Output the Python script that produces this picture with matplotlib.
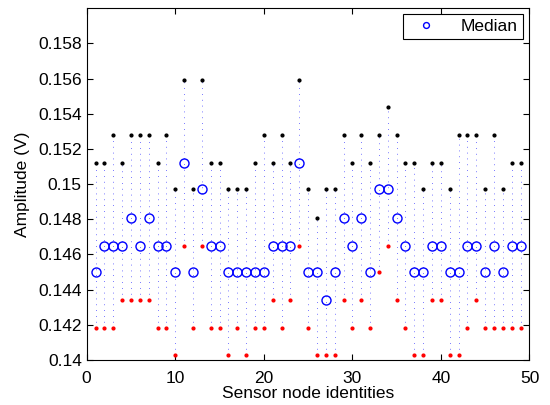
import matplotlib
matplotlib.use('Agg')
import matplotlib.pyplot as plt
from matplotlib.ticker import FormatStrFormatter

# sensor nodes 1..49
nodes = list(range(1, 50))

# maximum amplitude per node (black dots)
max_vals = [0.1512, 0.1512, 0.1528, 0.1512, 0.1528, 0.1528, 0.1528, 0.1512, 0.1528, 0.1497,
            0.1559, 0.1497, 0.1559, 0.1512, 0.1512, 0.1497, 0.1497, 0.1497, 0.1512, 0.1528,
            0.1512, 0.1528, 0.1512, 0.1559, 0.1497, 0.1481, 0.1497, 0.1497, 0.1528, 0.1512,
            0.1528, 0.1512, 0.1528, 0.1544, 0.1528, 0.1512, 0.1512, 0.1497, 0.1512, 0.1512,
            0.1497, 0.1528, 0.1528, 0.1528, 0.1497, 0.1528, 0.1497, 0.1512, 0.1512]

# median amplitude per node (blue circles)
median_vals = [0.1450, 0.1465, 0.1465, 0.1465, 0.1481, 0.1465, 0.1481, 0.1465, 0.1465, 0.1450,
               0.1512, 0.1450, 0.1497, 0.1465, 0.1465, 0.1450, 0.1450, 0.1450, 0.1450, 0.1450,
               0.1465, 0.1465, 0.1465, 0.1512, 0.1450, 0.1450, 0.1434, 0.1450, 0.1481, 0.1465,
               0.1481, 0.1450, 0.1497, 0.1497, 0.1481, 0.1465, 0.1450, 0.1450, 0.1465, 0.1465,
               0.1450, 0.1450, 0.1465, 0.1465, 0.1450, 0.1465, 0.1450, 0.1465, 0.1465]

# minimum amplitude per node (red dots)
min_vals = [0.1418, 0.1418, 0.1418, 0.1434, 0.1434, 0.1434, 0.1434, 0.1418, 0.1418, 0.1403,
            0.1465, 0.1418, 0.1465, 0.1418, 0.1418, 0.1403, 0.1418, 0.1403, 0.1418, 0.1418,
            0.1434, 0.1418, 0.1434, 0.1465, 0.1418, 0.1403, 0.1403, 0.1403, 0.1434, 0.1418,
            0.1434, 0.1418, 0.1450, 0.1465, 0.1434, 0.1418, 0.1403, 0.1403, 0.1434, 0.1434,
            0.1403, 0.1403, 0.1418, 0.1434, 0.1418, 0.1418, 0.1418, 0.1418, 0.1418]

plt.rcParams['font.family'] = ['Liberation Sans', 'DejaVu Sans']
plt.rcParams['font.size'] = 12.5

fig = plt.figure(figsize=(5.5, 4.05), dpi=100)
ax = fig.add_axes([0.1576, 0.1111, 0.8051, 0.8684])

# dotted range lines
for x, lo, hi in zip(nodes, min_vals, max_vals):
    ax.plot([x, x], [lo, hi], color='#0000ff', lw=0.6, alpha=0.7,
            linestyle=(0, (1, 6)), zorder=1)

ax.plot(nodes, max_vals, 'o', color='black', markersize=2.0, zorder=3)
ax.plot(nodes, min_vals, 'o', color='red', markersize=2.0, zorder=3)
ax.plot(nodes, median_vals, 'o', color='blue', markerfacecolor='none',
        markersize=6.5, markeredgewidth=1.0, label='Median', zorder=4)

ax.set_xlim(0, 50)
ax.set_ylim(0.14, 0.16)
ax.set_xticks([0, 10, 20, 30, 40, 50])
ax.set_yticks([0.14, 0.142, 0.144, 0.146, 0.148, 0.15, 0.152, 0.154, 0.156, 0.158])
ax.yaxis.set_major_formatter(FormatStrFormatter('%g'))
ax.tick_params(direction='in', top=True, right=True, length=4, width=0.8)
ax.tick_params(axis='x', pad=8)
for s in ax.spines.values():
    s.set_linewidth(0.8)

ax.set_xlabel('Sensor node identities', labelpad=0)
ax.set_ylabel('Amplitude (V)', labelpad=6)

leg = ax.legend(loc='upper right', bbox_to_anchor=(0.985, 0.984), borderaxespad=0,
                fancybox=False, framealpha=1, edgecolor='black', markerscale=0.65,
                handlelength=2.0, handletextpad=1.0, borderpad=0.3)
leg.get_frame().set_linewidth(0.8)

fig.savefig('out.png', dpi=100)
